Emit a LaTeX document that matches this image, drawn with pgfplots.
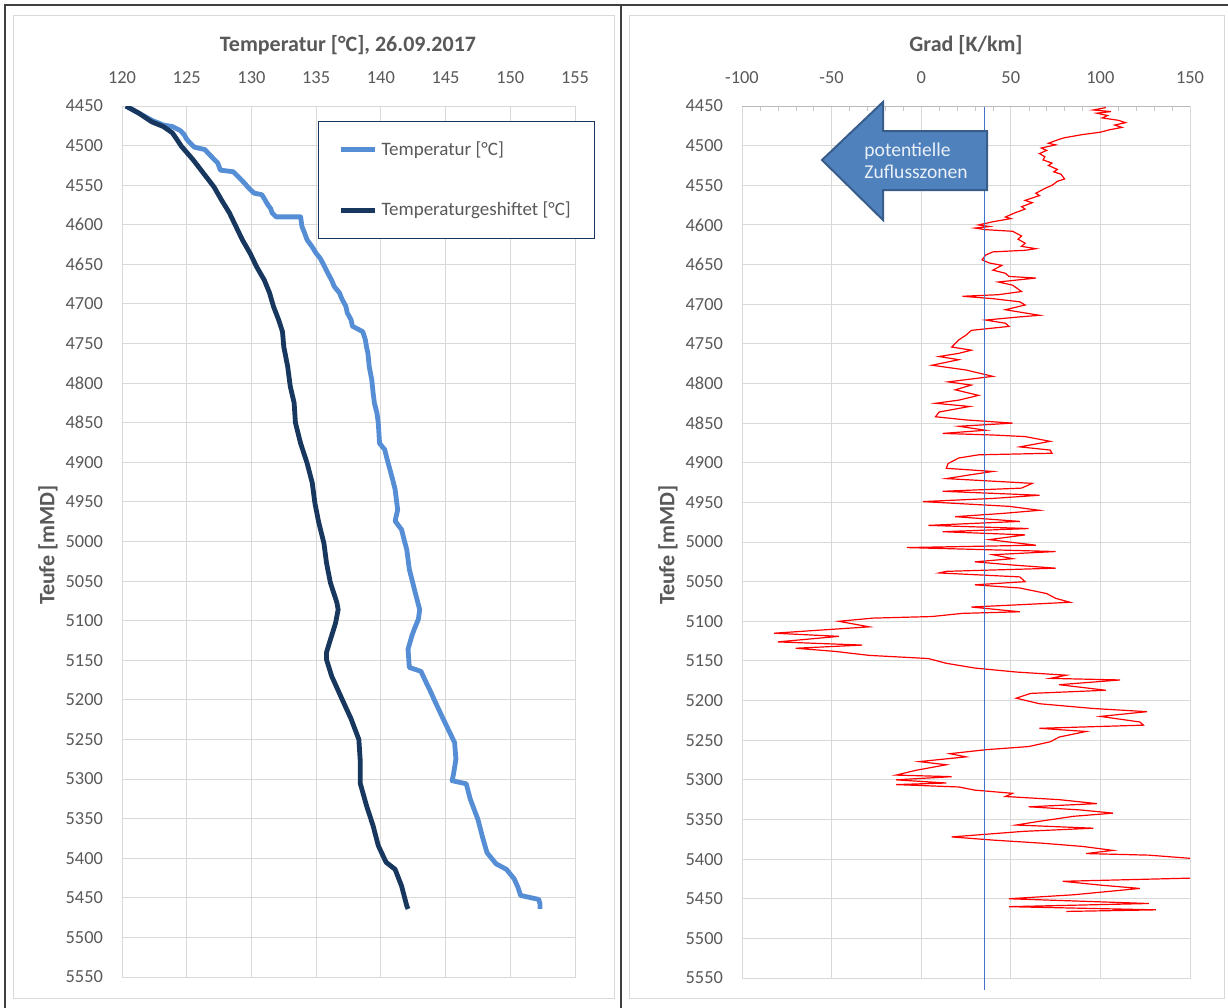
\documentclass[border=0pt]{standalone}
\usepackage{pgfplots}
\pgfplotsset{compat=1.18}
\usepackage{fontspec}
\setmainfont{Carlito}
\definecolor{tgray}{HTML}{595959}
\definecolor{gridc}{HTML}{D9D9D9}
\definecolor{lblue}{HTML}{558ED5}
\definecolor{dnavy}{HTML}{17375E}
\definecolor{arrowfill}{HTML}{4F81BD}
\definecolor{arrowdraw}{HTML}{385D8A}
\definecolor{vline}{HTML}{4472C4}
\definecolor{framec}{HTML}{404040}
\pgfplotsset{
  common/.style={
    scale only axis, anchor=north west,
    y dir=reverse, ymin=4450, ymax=5550, ytick={4450,4500,...,5550},
    grid=major, major grid style={gridc, line width=0.5pt},
    axis line style={gridc, line width=0.5pt},
    tick label style={font=\fontsize{9.2}{11}\selectfont, text=tgray},
    /pgf/number format/assume math mode=true,
    /pgf/number format/1000 sep={},
    xticklabel pos=upper,
    major tick length=0pt,
    yticklabel style={xshift=-6pt},
    xticklabel style={yshift=7.5pt},
  }
}
\begin{document}
\begin{tikzpicture}
\path[use as bounding box] (0,0) rectangle (614pt,-504pt);
\begin{scope}[x=0.5pt,y=-0.5pt]
\fill[white] (0,0) rectangle (1228,1008);
\draw[gridc, line width=0.5pt] (13,15) rectangle (614,998);
\draw[gridc, line width=0.5pt] (629,15) rectangle (1224,998);
\draw[framec, line width=1.2pt] (5,1008) -- (5,5) -- (1228,5);
\draw[framec, line width=1.2pt] (621,5) -- (621,1008);
\end{scope}

\begin{axis}[common, at={(61pt,-53pt)}, width=226.5pt, height=435.5pt,
  xmin=120, xmax=155, xtick={120,125,...,155},
  legend style={at={(0.4327,0.983)}, anchor=north west, draw=dnavy, line width=0.6pt,
    font=\fontsize{9.5}{11}\selectfont, text=tgray, inner xsep=10pt, inner ysep=8pt,
    row sep=18pt, cells={anchor=west}},
  legend cell align=left]
\addplot[lblue, line width=2.4pt, line join=round] coordinates {
(120.3,4450) (121.3,4459) (122.3,4468) (123.2,4474) (123.9,4476) (124.5,4481) (124.8,4486)
(125.0,4492) (125.4,4499) (125.6,4502) (126.4,4505) (126.8,4512) (127.1,4517) (127.4,4522)
(127.6,4531) (128.6,4533) (128.9,4538) (129.2,4543) (129.5,4548) (129.7,4552) (130.2,4560)
(130.8,4562) (131.0,4567) (131.2,4573) (131.5,4580) (131.6,4585) (131.9,4590) (133.8,4590)
(133.9,4602) (134.1,4610) (134.3,4619) (134.7,4628) (135.0,4636) (135.3,4642) (135.5,4648)
(135.9,4661) (136.2,4670) (136.4,4678) (136.8,4686) (137.0,4694) (137.3,4703) (137.4,4711)
(137.7,4720) (137.8,4728) (138.6,4735) (138.8,4745) (138.9,4755) (139.0,4762) (139.1,4779)
(139.3,4796) (139.4,4812) (139.5,4825) (139.7,4838) (139.8,4850) (139.9,4876) (140.3,4884)
(140.5,4897) (140.7,4909) (140.9,4921) (141.1,4934) (141.3,4960) (141.1,4974) (141.6,4985)
(141.8,4998) (142.0,5010) (142.2,5035) (142.4,5048) (142.6,5061) (143.0,5086) (142.9,5098)
(142.6,5110) (142.4,5119) (142.1,5136) (142.2,5159) (143.1,5164) (143.5,5178) (143.8,5188)
(144.1,5199) (144.7,5220) (145.2,5237) (145.7,5254) (145.8,5275) (145.6,5295) (145.5,5302)
(146.6,5306) (146.9,5325) (147.2,5338) (147.5,5351) (147.9,5376) (148.2,5393) (148.9,5407)
(149.7,5414) (150.3,5426) (150.6,5437) (150.8,5447) (152.2,5452) (152.3,5458) (152.3,5464)
};
\addlegendentry{Temperatur [°C]}
\addplot[dnavy, line width=2.4pt, line join=round] coordinates {
(120.3,4450) (121.3,4459) (122.3,4470) (123.2,4476) (123.9,4484) (124.6,4501) (125.5,4518)
(126.3,4535) (127.1,4552) (127.7,4569) (128.3,4585) (128.8,4602) (129.3,4619) (129.9,4636)
(130.4,4653) (131.0,4670) (131.4,4686) (131.7,4703) (132.1,4720) (132.4,4735) (132.5,4754)
(132.8,4779) (133.0,4804) (133.3,4825) (133.4,4850) (133.8,4876) (134.3,4901) (134.7,4926)
(134.9,4951) (135.2,4976) (135.6,5002) (135.8,5027) (136.1,5052) (136.6,5077) (136.7,5086)
(136.5,5103) (136.1,5124) (135.8,5140) (135.8,5149) (136.2,5170) (137.0,5199) (137.7,5224)
(138.3,5250) (138.4,5275) (138.4,5305) (138.9,5334) (139.4,5359) (139.8,5384) (140.4,5405)
(141.1,5414) (141.6,5435) (142.0,5460) (142.1,5464)
};
\addlegendentry{Temperaturgeshiftet [°C]}
\end{axis}

\begin{axis}[common, at={(371pt,-53pt)}, width=224pt, height=436pt,
  xmin=-100, xmax=150, xtick={-100,-50,...,150},
  xtick pos=upper,
  minor x tick num=4, minor tick length=2.5pt, minor tick style={gray!45},
  clip=false, unbounded coords=jump]
\addplot[red, line width=0.6pt] coordinates {
(103,4452) (96,4455) (106,4457) (98,4459) (104,4462) (101,4465) (110,4468) (114,4471) (108,4474)
(112,4477) (105,4480) (100,4483) (90,4486) (80,4490) (77,4492) (71,4497) (75,4499) (67,4503)
(70,4506) (66,4510) (69,4514) (68,4518) (73,4522) (71,4525) (76,4530) (74,4533) (78,4536)
(80,4542) (76,4545) (73,4550) (69,4554) (64,4560) (66,4563) (58,4569) (62,4572) (56,4577)
(58,4580) (52,4585) (47,4590) (50,4592) (40,4596) (32,4600) (38,4602) (30,4604) (36,4606)
(51,4608) (56,4614) (54,4618) (58,4623) (56,4627) (64,4630) (58,4632) (40,4634) (36,4638)
(34,4644) (38,4648) (45,4651) (40,4657) (47,4661) (49,4665) (64,4667) (43,4672) (51,4676)
(56,4684) (43,4688) (23,4690) (40,4693) (55,4697) (58,4701) (47,4707) (66,4714) (55,4716)
(36,4720) (47,4724) (49,4728) (28,4733) (25,4739) (21,4745) (17,4754) (28,4758) (21,4762)
(10,4766) (21,4770) (6,4777) (25,4783) (40,4791) (15,4798) (28,4802) (19,4808) (32,4815)
(21,4821) (8,4825) (27,4829) (10,4836) (8,4842) (25,4846) (51,4850) (21,4854) (36,4859)
(12,4863) (40,4865) (58,4867) (72,4873) (55,4880) (72,4884) (73,4888) (32,4890) (21,4894)
(15,4901) (14,4907) (40,4911) (28,4915) (14,4920) (62,4926) (56,4932) (12,4936) (66,4941)
(40,4945) (1,4949) (49,4955) (66,4960) (45,4964) (19,4968) (55,4974) (4,4979) (60,4983)
(12,4987) (58,4991) (38,4997) (64,5004) (-8,5007) (75,5012) (40,5016) (51,5021) (30,5025)
(51,5029) (75,5033) (14,5037) (10,5039) (55,5044) (58,5050) (30,5054) (55,5058) (70,5065)
(75,5071) (83,5076) (56,5079) (28,5082) (55,5088) (23,5090) (6,5094) (-27,5096) (-46,5100)
(-29,5107) (-82,5115) (-46,5119) (-80,5126) (-33,5130) (-70,5134) (-48,5138) (-29,5143)
(4,5147) (14,5153) (30,5159) (53,5164) (81,5168) (72,5172) (111,5174) (77,5180) (103,5187)
(61,5191) (53,5197) (66,5204) (96,5210) (126,5214) (100,5220) (122,5227) (124,5231) (66,5235)
(92,5239) (77,5246) (72,5252) (60,5258) (36,5262) (16,5267) (25,5271) (-1,5277) (14,5281)
(-3,5288) (-14,5294) (17,5296) (-14,5300) (14,5304) (-14,5306) (21,5309) (30,5313) (51,5317)
(47,5321) (77,5325) (98,5330) (60,5334) (89,5338) (107,5342) (85,5346) (64,5353) (53,5357)
(96,5361) (57,5365) (17,5372) (40,5376) (68,5380) (90,5384) (107,5389) (92,5393) (127,5395)
(150,5399) (inf,5410) (150,5424) (79,5428) (101,5433) (122,5437) (85,5445) (49,5450) (127,5456)
(49,5460) (131,5464) (81,5466)
};
\addplot[vline, line width=0.6pt] coordinates {(35.5,4450) (35.5,5565)};
\end{axis}

\begin{scope}[x=0.5pt,y=-0.5pt]
\draw[gray!55, line width=0.5pt] (742,106) -- (1190,106);
\node[font=\bfseries\fontsize{11}{13}\selectfont, text=tgray] at (348,45) {Temperatur [°C], 26.09.2017};
\node[font=\bfseries\fontsize{11}{13}\selectfont, text=tgray] at (966,45) {Grad [K/km]};
\node[font=\bfseries\fontsize{11}{13}\selectfont, text=tgray, rotate=90] at (48,545) {Teufe [mMD]};
\node[font=\bfseries\fontsize{11}{13}\selectfont, text=tgray, rotate=90] at (668,545) {Teufe [mMD]};
\filldraw[fill=arrowfill, draw=arrowdraw, line width=1pt, line join=miter]
  (822,160) -- (883,102) -- (883,131) -- (987,131) -- (987,190) -- (883,190) -- (883,220) -- cycle;
\node[anchor=west, align=left, text=white!88!arrowfill, font=\fontsize{9.8}{11}\selectfont, inner sep=0pt] at (864,161) {potentielle\\Zuflusszonen};
\end{scope}
\end{tikzpicture}
\end{document}
